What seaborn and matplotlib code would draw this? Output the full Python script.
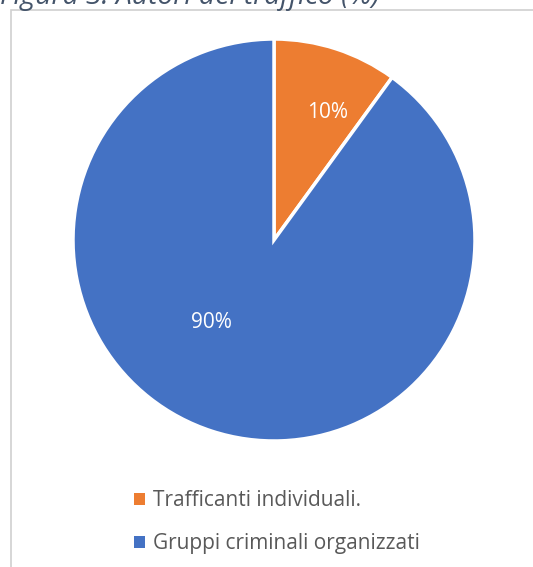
import matplotlib
matplotlib.use("Agg")
import matplotlib.pyplot as plt
from matplotlib.patches import Rectangle, Patch
import seaborn as sns

# Data
categories = ["Trafficanti individuali.", "Gruppi criminali organizzati"]
shares = [10, 90]
colors = ["#ED7D31", "#4472C4"]
title = "Figura 3: Autori del traffico (%)"

sns.set_theme(style="white")
plt.rcParams["font.family"] = ["Open Sans", "DejaVu Sans"]

W, H = 533, 567
fig = plt.figure(figsize=(W / 100, H / 100), dpi=100)
fig.patch.set_facecolor("white")

# Chart frame
fig.patches.append(Rectangle((11 / W, -0.01), 1.0, 1 - 10 / H + 0.01,
                             transform=fig.transFigure, fill=False,
                             edgecolor="#D0D0D0", linewidth=1.2))

# Title, partly clipped at the top edge
fig.text(0.0, 1 - 4 / H, title, ha="left", va="baseline", fontsize=20.3,
         style="italic", color="#44546A")

# Pie
cx, cy, r = 274, 240, 201
ax = fig.add_axes([(cx - r) / W, (H - cy - r) / H, 2 * r / W, 2 * r / H])
wedges, texts = ax.pie(shares, colors=colors, startangle=90, counterclock=False,
                       radius=1.0,
                       wedgeprops=dict(edgecolor="white", linewidth=2.5))
ax.set_xlim(-1, 1)
ax.set_ylim(-1, 1)
ax.set_aspect("equal")
ax.axis("off")

# Percentage labels
label_pos = [(328, 113), (211, 323)]
for (px, py), v in zip(label_pos, shares):
    fig.text(px / W, 1 - py / H, f"{v}%", ha="center", va="center",
             fontsize=15, color="white")

# Legend
handles = [Patch(facecolor=c, edgecolor="none") for c in colors]
leg = fig.legend(handles, categories, loc="upper left",
                 bbox_to_anchor=(124 / W, 1 - 480 / H),
                 frameon=False, fontsize=15, labelcolor="#595959",
                 handlelength=0.5, handleheight=0.5, handletextpad=0.4,
                 labelspacing=1.05, borderpad=0)

fig.savefig("out.png", dpi=100)
